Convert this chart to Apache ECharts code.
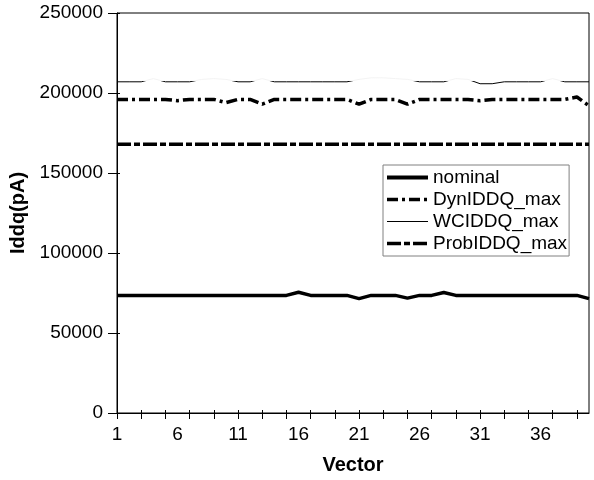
<!DOCTYPE html>
<html>
<head>
<meta charset="utf-8">
<script src="https://cdn.jsdelivr.net/npm/echarts@6/dist/echarts.min.js"></script>
<style>
html,body{margin:0;padding:0;background:#fff;}
#c{width:594px;height:480px;}
</style>
</head>
<body>
<div id="c"></div>
<script>
// Data
var vectors = [];
for (var i = 1; i <= 40; i++) vectors.push(String(i));
var nominal = [73500,73500,73500,73500,73500,73500,73500,73500,73500,73500,
               73500,73500,73500,73500,73500,75500,73500,73500,73500,73500,
               71500,73500,73500,73500,71800,73500,73500,75300,73500,73500,
               73500,73500,73500,73500,73500,73500,73500,73500,73500,71500];
var dynIDDQ = [196000,196000,196000,196000,196000,195200,196000,196000,196000,194000,
               196000,196000,193000,196000,196000,196000,196000,196000,196000,196000,
               193000,196000,196000,196000,193000,196000,196000,196000,196000,196000,
               195200,196000,196000,196000,196000,196000,196000,196000,197500,192000];
var wcIDDQ = [207000,207000,207000,209000,207000,207000,207000,208500,209000,208500,
              207000,207000,209000,207000,207000,207000,207000,207000,207000,207000,
              208500,209500,209500,209000,208500,207000,207000,207000,209000,208500,
              205800,205800,207000,207000,207000,207000,209000,207000,207000,207000];
var probIDDQ = [168000,168000,168000,168000,168000,168000,168000,168000,168000,168000,
                168000,168000,168000,168000,168000,168000,168000,168000,168000,168000,
                168000,168000,168000,168000,168000,168000,168000,168000,168000,168000,
                168000,168000,168000,168000,168000,168000,168000,168000,168000,168000];
var yTicks = [0, 50000, 100000, 150000, 200000, 250000];

var FONT = 'Liberation Sans, Arial, sans-serif';
var chart = echarts.init(document.getElementById('c'), null, {renderer: 'canvas'});
chart.setOption({
  animation: false,
  backgroundColor: '#fff',
  grid: {left: 117, right: 5, top: 13, bottom: 67, show: true, borderColor: '#000', borderWidth: 1, backgroundColor: 'transparent'},
  legend: {
    orient: 'vertical', left: 383, top: 165,
    padding: [3, 2, 3, 2], itemGap: 3, itemWidth: 41, itemHeight: 14,
    borderColor: '#808080', borderWidth: 1, backgroundColor: '#fff',
    itemStyle: {opacity: 0},
    textStyle: {fontFamily: FONT, fontSize: 19, color: '#000'},
    data: [
      {name: 'nominal', lineStyle: {color: '#000', width: 4, type: 'solid'}},
      {name: 'DynIDDQ_max', lineStyle: {color: '#000', width: 3.5, type: [11, 4, 3, 4]}},
      {name: 'WCIDDQ_max', lineStyle: {color: '#000', width: 1, type: 'solid'}},
      {name: 'ProbIDDQ_max', lineStyle: {color: '#000', width: 3.5, type: [14, 3, 6, 3]}}
    ]
  },
  visualMap: {
    show: false, type: 'piecewise', seriesIndex: 2, dimension: 1,
    pieces: [{gte: 150000, lte: 207200, color: '#000000'}, {gt: 207200, lte: 250000, color: '#f3f3f3'}],
    outOfRange: {color: '#000000'}
  },
  xAxis: [{
    type: 'category', data: vectors, boundaryGap: false,
    name: 'Vector', nameLocation: 'middle', nameGap: 42,
    nameTextStyle: {fontFamily: FONT, fontSize: 20, fontWeight: 'bold', color: '#000'},
    axisLine: {lineStyle: {color: '#000', width: 1}},
    axisTick: {show: true, interval: 1, length: 6, lineStyle: {color: '#000'}},
    axisLabel: {interval: 4, margin: 12, fontFamily: FONT, fontSize: 19, color: '#000'},
    splitLine: {show: false}
  }, {
    type: 'category', data: vectors, boundaryGap: false, position: 'bottom',
    axisLine: {show: false},
    axisTick: {show: true, inside: true, interval: 1, length: 3, lineStyle: {color: '#000'}},
    axisLabel: {show: false}, splitLine: {show: false}
  }],
  yAxis: [{
    type: 'value', min: yTicks[0], max: yTicks[yTicks.length - 1], interval: 50000,
    name: 'Iddq(pA)', nameLocation: 'middle', nameGap: 76,
    nameTextStyle: {fontFamily: FONT, fontSize: 20, fontWeight: 'bold', color: '#000'},
    axisLine: {show: true, lineStyle: {color: '#000', width: 1}},
    axisTick: {show: true, length: 9, lineStyle: {color: '#000'}},
    axisLabel: {margin: 14, fontFamily: FONT, fontSize: 19, color: '#000',
                formatter: function (v) { return String(v); }},
    splitLine: {show: false}
  }, {
    type: 'value', min: yTicks[0], max: yTicks[yTicks.length - 1], interval: 50000, position: 'left',
    axisLine: {show: false},
    axisTick: {show: true, inside: true, length: 3, lineStyle: {color: '#000'}},
    axisLabel: {show: false}, splitLine: {show: false}
  }],
  series: [
    {name: 'nominal', type: 'line', data: nominal, symbol: 'none',
     lineStyle: {color: '#000', width: 3.5}, itemStyle: {color: '#000'}},
    {name: 'DynIDDQ_max', type: 'line', data: dynIDDQ, symbol: 'none',
     lineStyle: {color: '#000', width: 3.5, type: [11, 4, 3, 4]}, itemStyle: {color: '#000'}},
    {name: 'WCIDDQ_max', type: 'line', data: wcIDDQ, symbol: 'none',
     lineStyle: {width: 1}},
    {name: 'ProbIDDQ_max', type: 'line', data: probIDDQ, symbol: 'none',
     lineStyle: {color: '#000', width: 3.5, type: [14, 3, 6, 3]}, itemStyle: {color: '#000'}}
  ]
});
</script>
</body>
</html>
